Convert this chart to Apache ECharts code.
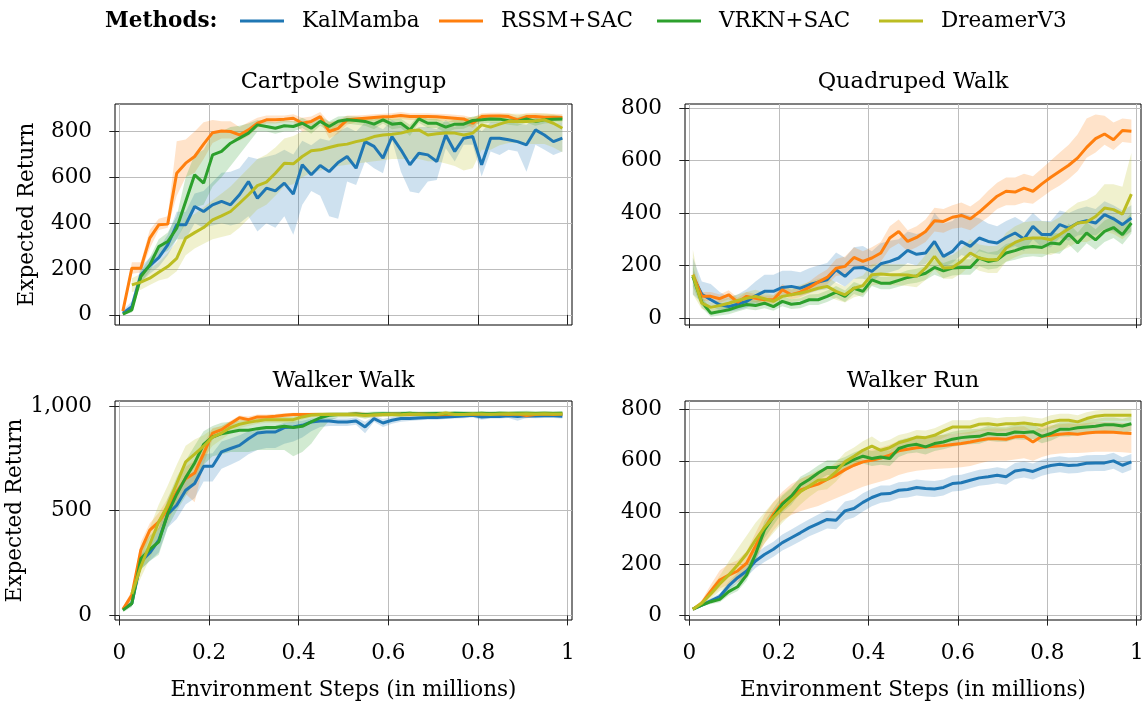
<!DOCTYPE html>
<html><head><meta charset="utf-8">
<script src="https://cdn.jsdelivr.net/npm/echarts@6/dist/echarts.min.js"></script>
<style>html,body{margin:0;padding:0;background:#fff}#c{width:1148px;height:708px}</style>
</head><body><div id="c"></div>
<script>
const METHODS = ['KalMamba', 'RSSM+SAC', 'VRKN+SAC', 'DreamerV3'];
const COLORS = ['#1f77b4', '#ff7f0e', '#2ca02c', '#bcbd22'];
const TITLES = ['Cartpole Swingup', 'Quadruped Walk', 'Walker Walk', 'Walker Run'];
const STEPS = [0.008, 0.028, 0.048, 0.068, 0.088, 0.108, 0.128, 0.148, 0.168, 0.188, 0.208, 0.228, 0.248, 0.268, 0.288, 0.308, 0.328, 0.348, 0.368, 0.388, 0.408, 0.428, 0.448, 0.468, 0.488, 0.508, 0.528, 0.548, 0.568, 0.588, 0.608, 0.628, 0.648, 0.668, 0.688, 0.708, 0.728, 0.748, 0.768, 0.788, 0.808, 0.828, 0.848, 0.868, 0.888, 0.908, 0.928, 0.948, 0.968, 0.988];
const X_TICKS = [0, 0.2, 0.4, 0.6, 0.8, 1];
const Y_TICKS_CART = [0, 200, 400, 600, 800];
const Y_TICKS_QUAD = [0, 200, 400, 600, 800];
const Y_TICKS_WALK = [0, 500, 1000];
const Y_TICKS_RUN = [0, 200, 400, 600, 800];

// ---- Cartpole Swingup ----
const cartKal = [7, 36, 175, 215, 250, 305, 393, 393, 473, 451, 480, 495, 480, 524, 582, 509, 553, 541, 575, 527, 655, 611, 652, 625, 665, 691, 640, 756, 735, 684, 778, 720, 655, 705, 698, 669, 785, 713, 771, 778, 655, 771, 771, 764, 756, 742, 807, 785, 756, 771];
const cartKalLo = [0, 15, 140, 180, 210, 260, 330, 330, 400, 380, 390, 400, 390, 400, 430, 364, 400, 380, 430, 350, 480, 540, 520, 430, 420, 582, 567, 669, 640, 618, 764, 625, 538, 531, 582, 589, 727, 669, 742, 742, 604, 713, 698, 720, 713, 625, 742, 720, 698, 713];
const cartKalHi = [20, 60, 210, 250, 290, 350, 450, 450, 530, 540, 580, 620, 625, 640, 690, 680, 690, 700, 720, 700, 760, 740, 770, 760, 800, 820, 800, 840, 830, 810, 850, 830, 800, 820, 820, 810, 850, 820, 840, 845, 800, 840, 840, 840, 835, 830, 860, 850, 835, 840];
const cartRssm = [17, 204, 204, 335, 393, 396, 618, 662, 691, 745, 795, 802, 800, 785, 807, 836, 851, 851, 854, 858, 836, 844, 865, 800, 814, 851, 855, 858, 861, 864, 865, 870, 865, 865, 865, 864, 861, 858, 855, 836, 865, 868, 868, 865, 851, 865, 865, 862, 862, 861];
const cartRssmLo = [5, 180, 185, 290, 370, 380, 520, 600, 620, 680, 750, 770, 770, 760, 780, 815, 835, 835, 840, 840, 800, 815, 845, 770, 790, 830, 840, 845, 848, 850, 850, 855, 850, 850, 850, 848, 845, 840, 835, 815, 848, 852, 852, 848, 835, 848, 850, 847, 847, 845];
const cartRssmHi = [30, 230, 230, 370, 420, 430, 757, 765, 800, 840, 850, 845, 845, 820, 840, 860, 870, 870, 870, 875, 860, 865, 885, 840, 850, 870, 870, 872, 875, 878, 880, 885, 880, 880, 880, 878, 876, 873, 870, 860, 880, 882, 882, 880, 870, 880, 880, 877, 877, 876];
const cartVrkn = [3, 22, 167, 218, 298, 320, 378, 495, 611, 575, 698, 713, 749, 771, 793, 829, 822, 814, 825, 822, 836, 814, 844, 822, 845, 851, 848, 844, 832, 851, 832, 836, 807, 855, 836, 836, 819, 832, 832, 848, 851, 855, 854, 847, 844, 855, 844, 851, 854, 855];
const cartVrknLo = [0, 10, 140, 190, 260, 280, 330, 400, 470, 480, 560, 600, 650, 700, 750, 800, 800, 790, 800, 800, 815, 790, 825, 800, 825, 835, 830, 825, 810, 835, 810, 815, 780, 838, 815, 815, 795, 810, 812, 830, 835, 838, 838, 830, 825, 838, 825, 835, 838, 840];
const cartVrknHi = [10, 40, 190, 250, 330, 360, 430, 600, 700, 720, 790, 800, 820, 825, 835, 850, 845, 840, 850, 845, 860, 840, 865, 845, 865, 868, 866, 862, 852, 868, 852, 856, 830, 872, 855, 855, 840, 852, 852, 865, 868, 872, 870, 864, 862, 872, 862, 868, 870, 870];
const cartDreamer = [null, 131, 143, 160, 186, 211, 247, 335, 359, 381, 415, 432, 451, 487, 524, 564, 579, 618, 662, 659, 691, 716, 720, 730, 740, 745, 756, 764, 778, 785, 788, 793, 803, 807, 785, 790, 793, 793, 785, 793, 829, 819, 832, 844, 844, 844, 846, 851, 836, 814];
const cartDreamerLo = [null, 100, 110, 130, 150, 160, 190, 260, 290, 310, 330, 340, 350, 380, 420, 460, 480, 520, 560, 570, 600, 620, 630, 640, 650, 655, 660, 665, 670, 675, 680, 680, 680, 680, 670, 670, 660, 650, 630, 640, 720, 720, 740, 750, 750, 745, 745, 745, 730, 710];
const cartDreamerHi = [null, 160, 180, 200, 230, 270, 320, 420, 440, 470, 500, 530, 560, 600, 640, 680, 700, 730, 770, 780, 800, 820, 830, 840, 845, 850, 855, 855, 860, 860, 860, 862, 865, 865, 860, 862, 862, 862, 860, 862, 875, 872, 875, 878, 878, 878, 880, 880, 875, 865];

// ---- Quadruped Walk ----
const quadKal = [159, 91, 70, 51, 44, 53, 64, 85, 102, 102, 117, 121, 114, 127, 137, 146, 184, 159, 191, 193, 178, 207, 216, 229, 258, 243, 248, 292, 235, 254, 292, 273, 305, 292, 286, 307, 324, 301, 349, 318, 318, 356, 343, 362, 371, 362, 394, 378, 356, 381];
const quadKalLo = [90, 60, 45, 30, 25, 30, 40, 55, 70, 70, 85, 90, 85, 95, 105, 110, 140, 120, 150, 150, 140, 165, 175, 185, 210, 200, 205, 240, 195, 210, 240, 230, 255, 245, 240, 260, 275, 255, 300, 270, 270, 305, 295, 315, 320, 315, 340, 330, 310, 330];
const quadKalHi = [230, 140, 130, 100, 80, 90, 110, 140, 165, 165, 180, 180, 175, 190, 200, 210, 250, 230, 270, 275, 255, 285, 295, 300, 330, 320, 330, 400, 360, 370, 400, 390, 380, 360, 350, 370, 385, 365, 400, 370, 370, 410, 400, 415, 425, 415, 445, 430, 410, 430];
const quadRssm = [165, 83, 83, 74, 89, 61, 83, 76, 70, 70, 108, 89, 99, 117, 137, 155, 190, 197, 231, 216, 229, 248, 305, 330, 292, 307, 330, 371, 368, 384, 391, 378, 404, 434, 464, 483, 480, 495, 483, 511, 536, 559, 582, 610, 650, 683, 701, 679, 714, 711];
const quadRssmLo = [150, 65, 65, 58, 72, 48, 68, 62, 56, 56, 88, 72, 80, 95, 112, 128, 160, 165, 195, 185, 195, 215, 265, 285, 255, 270, 290, 330, 325, 340, 345, 335, 360, 385, 415, 430, 430, 440, 435, 460, 485, 505, 530, 560, 610, 630, 660, 640, 670, 667];
const quadRssmHi = [180, 100, 100, 90, 106, 78, 100, 92, 86, 86, 130, 108, 120, 140, 165, 185, 225, 235, 270, 255, 270, 290, 350, 375, 335, 350, 375, 420, 415, 430, 440, 425, 450, 485, 515, 535, 535, 550, 540, 570, 600, 630, 660, 700, 760, 775, 770, 745, 760, 756];
const quadVrkn = [159, 61, 19, 25, 32, 43, 52, 48, 57, 44, 64, 53, 57, 70, 70, 83, 99, 83, 114, 102, 146, 133, 133, 144, 155, 161, 171, 193, 180, 191, 193, 193, 229, 216, 222, 248, 257, 269, 273, 269, 286, 282, 320, 286, 324, 298, 330, 345, 318, 362];
const quadVrknLo = [120, 40, 5, 10, 15, 25, 35, 30, 38, 28, 45, 35, 38, 50, 50, 62, 78, 62, 92, 80, 122, 110, 110, 120, 130, 135, 145, 165, 152, 162, 165, 165, 198, 185, 190, 215, 222, 232, 236, 232, 248, 245, 280, 248, 285, 260, 290, 305, 280, 322];
const quadVrknHi = [200, 82, 35, 42, 50, 62, 70, 66, 76, 62, 84, 72, 76, 90, 92, 105, 122, 105, 138, 125, 170, 158, 158, 170, 182, 188, 198, 222, 210, 222, 224, 224, 262, 250, 256, 282, 292, 305, 310, 306, 325, 322, 360, 326, 365, 338, 372, 388, 358, 402];
const quadDreamer = [165, 57, 41, 48, 57, 67, 76, 83, 74, 64, 83, 89, 95, 104, 114, 121, 102, 89, 114, 124, 165, 168, 165, 165, 164, 159, 191, 235, 191, 193, 216, 248, 229, 222, 222, 267, 288, 302, 305, 305, 298, 318, 340, 362, 366, 387, 419, 413, 396, 472];
const quadDreamerLo = [90, 35, 25, 30, 38, 45, 52, 58, 50, 42, 58, 62, 66, 72, 80, 86, 70, 60, 80, 88, 125, 128, 125, 125, 122, 118, 145, 185, 150, 150, 170, 200, 180, 172, 172, 215, 232, 245, 245, 245, 240, 255, 270, 290, 290, 305, 330, 320, 300, 330];
const quadDreamerHi = [260, 82, 60, 68, 78, 90, 100, 108, 98, 88, 110, 118, 126, 138, 150, 158, 135, 120, 150, 162, 205, 210, 205, 205, 205, 200, 240, 290, 235, 240, 265, 300, 280, 275, 275, 325, 350, 365, 370, 370, 365, 385, 415, 440, 450, 470, 510, 510, 500, 629];

// ---- Walker Walk ----
const walkKal = [29, 57, 256, 299, 359, 483, 526, 598, 630, 712, 712, 781, 797, 812, 844, 871, 876, 876, 897, 900, 908, 924, 929, 929, 924, 924, 929, 900, 940, 919, 932, 940, 940, 943, 945, 945, 948, 950, 952, 956, 948, 950, 950, 953, 950, 953, 952, 953, 953, 951];
const walkKalLo = [20, 45, 220, 260, 300, 420, 460, 530, 560, 640, 640, 700, 720, 740, 770, 790, 800, 800, 820, 830, 850, 880, 900, 905, 905, 905, 910, 870, 925, 900, 915, 925, 928, 932, 935, 935, 938, 940, 942, 945, 935, 940, 940, 943, 930, 943, 942, 943, 943, 940];
const walkKalHi = [38, 70, 290, 340, 420, 545, 590, 660, 690, 770, 775, 830, 845, 860, 880, 900, 905, 905, 920, 925, 930, 940, 945, 945, 940, 940, 945, 925, 952, 938, 948, 953, 953, 955, 957, 957, 960, 961, 962, 966, 960, 961, 961, 963, 962, 963, 962, 963, 963, 962];
const walkRssm = [29, 97, 312, 407, 447, 510, 590, 653, 680, 773, 871, 887, 916, 944, 935, 948, 948, 951, 956, 960, 960, 960, 960, 960, 960, 960, 962, 960, 958, 960, 962, 962, 960, 963, 962, 958, 960, 962, 963, 960, 962, 963, 962, 960, 962, 955, 960, 962, 960, 962];
const walkRssmLo = [20, 75, 270, 370, 410, 460, 530, 580, 540, 720, 840, 865, 900, 930, 920, 935, 935, 940, 945, 950, 950, 950, 950, 950, 950, 950, 952, 950, 948, 950, 952, 952, 950, 953, 952, 945, 950, 952, 953, 950, 952, 953, 952, 950, 952, 940, 950, 952, 950, 952];
const walkRssmHi = [38, 120, 350, 440, 490, 560, 640, 710, 740, 820, 895, 905, 930, 955, 950, 960, 960, 962, 966, 968, 968, 968, 968, 968, 968, 968, 970, 968, 966, 968, 970, 970, 968, 971, 970, 966, 968, 970, 971, 968, 970, 971, 970, 968, 970, 964, 968, 970, 968, 970];
const walkVrkn = [25, 57, 272, 315, 351, 487, 579, 658, 728, 817, 852, 868, 876, 884, 884, 892, 897, 897, 903, 897, 903, 924, 944, 956, 960, 960, 962, 958, 962, 963, 962, 963, 965, 962, 963, 964, 963, 965, 964, 963, 965, 963, 965, 964, 965, 966, 964, 965, 964, 965];
const walkVrknLo = [15, 40, 220, 260, 290, 420, 500, 570, 640, 720, 760, 770, 780, 780, 780, 790, 790, 790, 790, 760, 780, 820, 880, 930, 945, 945, 950, 940, 948, 950, 950, 950, 952, 950, 950, 952, 950, 952, 952, 950, 952, 950, 952, 952, 952, 953, 952, 952, 952, 952];
const walkVrknHi = [35, 80, 320, 380, 420, 560, 660, 740, 810, 880, 905, 920, 925, 930, 935, 940, 942, 945, 948, 950, 952, 958, 965, 970, 972, 972, 974, 972, 974, 975, 974, 975, 976, 974, 975, 976, 975, 976, 976, 975, 976, 975, 976, 976, 976, 977, 976, 976, 976, 976];
const walkDreamer = [null, 102, 232, 340, 447, 526, 630, 733, 770, 808, 852, 871, 897, 913, 922, 929, 935, 935, 935, 935, 948, 957, 960, 960, 960, 960, 958, 955, 958, 960, 960, 958, 962, 960, 958, 960, 967, 960, 960, 962, 962, 960, 962, 963, 962, 963, 962, 963, 962, 962];
const walkDreamerLo = [null, 80, 180, 270, 370, 440, 540, 650, 700, 750, 810, 840, 870, 895, 905, 915, 920, 920, 920, 920, 935, 945, 948, 948, 948, 948, 945, 940, 945, 948, 948, 945, 950, 948, 945, 948, 955, 948, 948, 950, 950, 948, 950, 951, 950, 951, 950, 951, 950, 950];
const walkDreamerHi = [null, 125, 290, 420, 530, 620, 720, 810, 840, 860, 890, 905, 925, 935, 940, 945, 950, 950, 950, 950, 960, 968, 971, 971, 971, 971, 970, 968, 970, 971, 971, 970, 973, 971, 970, 971, 978, 971, 971, 973, 973, 971, 973, 974, 973, 974, 973, 974, 973, 973];

// ---- Walker Run ----
const runKal = [25, 41, 57, 74, 115, 147, 173, 212, 237, 257, 283, 302, 321, 341, 357, 373, 370, 406, 415, 439, 458, 471, 473, 486, 489, 497, 493, 491, 497, 512, 515, 525, 534, 538, 544, 538, 561, 566, 559, 573, 582, 587, 582, 584, 591, 592, 592, 600, 583, 596];
const runKalLo = [20, 34, 48, 62, 100, 128, 150, 185, 208, 228, 252, 270, 288, 308, 322, 338, 335, 370, 380, 404, 424, 438, 442, 455, 458, 466, 462, 460, 466, 481, 484, 494, 503, 507, 513, 507, 530, 535, 528, 542, 551, 556, 551, 553, 560, 561, 561, 569, 552, 565];
const runKalHi = [30, 48, 66, 86, 130, 166, 196, 239, 266, 286, 314, 334, 354, 374, 392, 408, 405, 442, 450, 474, 492, 504, 504, 517, 520, 528, 524, 522, 528, 543, 546, 556, 565, 569, 575, 569, 592, 597, 590, 604, 613, 618, 613, 615, 622, 623, 623, 631, 614, 627];
const runRssm = [25, 48, 95, 138, 157, 173, 203, 270, 338, 393, 437, 463, 486, 499, 510, 528, 544, 566, 583, 596, 602, 611, 622, 639, 645, 651, 654, 657, 659, 663, 667, 673, 680, 686, 686, 684, 693, 695, 673, 695, 699, 703, 706, 703, 708, 711, 712, 711, 708, 706];
const runRssmLo = [20, 38, 75, 105, 120, 130, 155, 215, 280, 330, 370, 390, 405, 415, 425, 440, 455, 470, 485, 500, 510, 520, 530, 545, 555, 562, 565, 568, 570, 572, 575, 580, 590, 598, 600, 600, 605, 610, 600, 615, 625, 628, 630, 630, 632, 635, 635, 635, 633, 630];
const runRssmHi = [30, 60, 120, 175, 200, 215, 250, 320, 390, 440, 480, 510, 530, 545, 555, 570, 585, 605, 620, 635, 645, 652, 662, 678, 685, 690, 694, 697, 700, 704, 708, 713, 720, 725, 725, 724, 732, 734, 715, 734, 738, 742, 745, 742, 747, 750, 751, 750, 747, 745];
const runVrkn = [25, 41, 54, 63, 93, 112, 157, 239, 332, 383, 432, 463, 506, 528, 553, 574, 574, 587, 605, 618, 609, 615, 609, 648, 659, 664, 654, 667, 673, 684, 690, 693, 695, 706, 702, 702, 712, 710, 713, 695, 706, 722, 722, 728, 731, 734, 740, 740, 735, 744];
const runVrknLo = [20, 35, 45, 52, 78, 95, 135, 210, 300, 350, 400, 430, 475, 500, 525, 545, 545, 560, 578, 590, 580, 585, 580, 615, 628, 632, 625, 638, 645, 655, 660, 664, 666, 678, 674, 674, 684, 682, 685, 668, 678, 694, 694, 700, 703, 706, 712, 712, 707, 716];
const runVrknHi = [30, 48, 64, 76, 108, 130, 180, 268, 365, 415, 465, 495, 538, 558, 582, 602, 602, 615, 632, 646, 638, 645, 640, 680, 690, 694, 684, 696, 702, 713, 720, 722, 724, 735, 730, 730, 740, 738, 741, 722, 734, 750, 750, 756, 759, 762, 768, 768, 763, 772];
const runDreamer = [25, 48, 84, 123, 157, 196, 239, 293, 342, 381, 415, 448, 480, 502, 525, 528, 557, 596, 618, 641, 657, 641, 651, 670, 680, 692, 690, 699, 716, 731, 731, 731, 742, 744, 739, 744, 744, 747, 742, 738, 751, 757, 757, 751, 764, 773, 777, 777, 777, 777];
const runDreamerLo = [20, 38, 65, 95, 110, 140, 180, 230, 280, 320, 360, 395, 430, 460, 485, 490, 520, 560, 585, 605, 620, 610, 620, 640, 652, 664, 662, 672, 690, 705, 705, 705, 716, 718, 713, 718, 718, 721, 716, 712, 725, 731, 731, 725, 740, 750, 755, 755, 755, 755];
const runDreamerHi = [30, 60, 105, 155, 210, 260, 310, 360, 400, 440, 470, 500, 530, 545, 565, 568, 595, 632, 652, 676, 694, 672, 682, 700, 708, 720, 718, 726, 742, 757, 757, 757, 768, 770, 765, 770, 770, 773, 768, 764, 777, 783, 783, 777, 788, 795, 799, 799, 799, 799];

// ---------- build ----------
const FONT = 'DejaVu Serif';
const PANELS = [
  { title: TITLES[0], yTicks: Y_TICKS_CART, yMin: -44, yMax: 920,
    series: [[cartKal, cartKalLo, cartKalHi], [cartRssm, cartRssmLo, cartRssmHi], [cartVrkn, cartVrknLo, cartVrknHi], [cartDreamer, cartDreamerLo, cartDreamerHi]] },
  { title: TITLES[1], yTicks: Y_TICKS_QUAD, yMin: -26, yMax: 815,
    series: [[quadKal, quadKalLo, quadKalHi], [quadRssm, quadRssmLo, quadRssmHi], [quadVrkn, quadVrknLo, quadVrknHi], [quadDreamer, quadDreamerLo, quadDreamerHi]] },
  { title: TITLES[2], yTicks: Y_TICKS_WALK, yMin: -22, yMax: 1024,
    series: [[walkKal, walkKalLo, walkKalHi], [walkRssm, walkRssmLo, walkRssmHi], [walkVrkn, walkVrknLo, walkVrknHi], [walkDreamer, walkDreamerLo, walkDreamerHi]] },
  { title: TITLES[3], yTicks: Y_TICKS_RUN, yMin: -17, yMax: 832,
    series: [[runKal, runKalLo, runKalHi], [runRssm, runRssmLo, runRssmHi], [runVrkn, runVrknLo, runVrknHi], [runDreamer, runDreamerLo, runDreamerHi]] }
];
const BOXES = [
  { left: 115, top: 104, width: 457, height: 221 },
  { left: 685, top: 104, width: 456, height: 221 },
  { left: 115, top: 401, width: 457, height: 219 },
  { left: 685, top: 401, width: 456, height: 219 }
];
const TITLE_Y = [82, 82, 381, 381];
const LEGEND_X = [240, 439, 657, 879];

function rgba(hex, a) {
  const n = parseInt(hex.slice(1), 16);
  return 'rgba(' + (n >> 16) + ',' + ((n >> 8) & 255) + ',' + (n & 255) + ',' + a + ')';
}
function fmtNum(v) { return Number(v).toLocaleString('en-US'); }

const grids = [], xAxes = [], yAxes = [], series = [], graphics = [];
PANELS.forEach(function (p, gi) {
  const b = BOXES[gi];
  grids.push({ left: b.left, top: b.top, width: b.width, height: b.height, show: true,
    borderColor: '#000', borderWidth: 1, backgroundColor: 'transparent', containLabel: false });
  const bottomRow = gi >= 2;
  xAxes.push({
    type: 'value', gridIndex: gi, min: -0.0096, max: 1.0095,
    axisLine: { show: false },
    axisTick: { show: true, inside: false, length: 10, customValues: X_TICKS, lineStyle: { color: '#222', width: 1 } },
    axisLabel: { show: bottomRow, customValues: X_TICKS, margin: 22, color: '#000', fontFamily: FONT, fontSize: 21.5,
      formatter: function (v) { return String(v); } },
    splitLine: { show: true, lineStyle: { color: '#bdbdbd', width: 1 } },
    name: bottomRow ? 'Environment Steps (in millions)' : '',
    nameLocation: 'middle', nameGap: 59,
    nameTextStyle: { color: '#000', fontFamily: FONT, fontSize: 21.5 }
  });
  const leftCol = gi % 2 === 0;
  yAxes.push({
    type: 'value', gridIndex: gi, min: p.yMin, max: p.yMax,
    axisLine: { show: false },
    axisTick: { show: true, inside: false, length: 10, customValues: p.yTicks, lineStyle: { color: '#222', width: 1 } },
    axisLabel: { customValues: p.yTicks, margin: 23, color: '#000', fontFamily: FONT, fontSize: 21.5, formatter: fmtNum },
    splitLine: { show: true, lineStyle: { color: '#bdbdbd', width: 1 } },
    name: leftCol ? 'Expected Return' : '',
    nameLocation: 'middle', nameGap: 77,
    nameTextStyle: { color: '#000', fontFamily: FONT, fontSize: 21.5 }
  });
  // bands
  p.series.forEach(function (s, mi) {
    const lo = s[1], hi = s[2];
    const rows = [];
    for (let i = 0; i < STEPS.length; i++) {
      if (lo[i] != null && hi[i] != null) rows.push([STEPS[i], lo[i], hi[i]]);
    }
    const fill = rgba(COLORS[mi], 0.22);
    series.push({
      type: 'custom', name: METHODS[mi] + ' band', xAxisIndex: gi, yAxisIndex: gi,
      silent: true, z: 1, data: rows, encode: { x: 0, y: [1, 2] },
      renderItem: function (params, api) {
        if (params.dataIndex !== 0) return null;
        const top = rows.map(function (r) { return api.coord([r[0], r[2]]); });
        const bot = rows.map(function (r) { return api.coord([r[0], r[1]]); }).reverse();
        return { type: 'polygon', shape: { points: top.concat(bot) }, style: { fill: fill, stroke: null } };
      }
    });
  });
  // mean lines
  p.series.forEach(function (s, mi) {
    const mean = s[0];
    const pts = [];
    for (let i = 0; i < STEPS.length; i++) if (mean[i] != null) pts.push([STEPS[i], mean[i]]);
    series.push({
      type: 'line', name: METHODS[mi], xAxisIndex: gi, yAxisIndex: gi, data: pts,
      showSymbol: false, symbol: 'none', z: 3 + mi,
      color: COLORS[mi], lineStyle: { color: COLORS[mi], width: 3 }, itemStyle: { color: COLORS[mi] }
    });
  });
  graphics.push({
    type: 'text', x: b.left + b.width / 2, y: TITLE_Y[gi], silent: true,
    style: { text: p.title, fill: '#000', fontFamily: FONT, fontSize: 22.5,
      font: '22.5px "DejaVu Serif"', align: 'center', verticalAlign: 'middle',
      textAlign: 'center', textVerticalAlign: 'middle' }
  });
});
graphics.push({
  type: 'text', x: 105, y: 21, silent: true,
  style: { text: 'Methods:', fill: '#000', fontFamily: FONT, fontSize: 21.5, fontWeight: 'bold',
    font: 'bold 21.5px "DejaVu Serif"', align: 'left', verticalAlign: 'middle',
    textAlign: 'left', textVerticalAlign: 'middle' }
});

const legends = METHODS.map(function (m, i) {
  return { data: [m], left: LEGEND_X[i], top: 10, padding: 0, icon: 'rect', itemWidth: 44, itemHeight: 3,
    selectedMode: false,
    textStyle: { color: '#000', fontFamily: FONT, fontSize: 21.5, padding: [0, 0, 0, 13] } };
});

const chart = echarts.init(document.getElementById('c'), null, { renderer: 'canvas' });
chart.setOption({
  animation: false,
  backgroundColor: '#fff',
  textStyle: { fontFamily: FONT },
  legend: legends,
  grid: grids, xAxis: xAxes, yAxis: yAxes, series: series,
  graphic: { elements: graphics }
});
</script>
</body></html>
